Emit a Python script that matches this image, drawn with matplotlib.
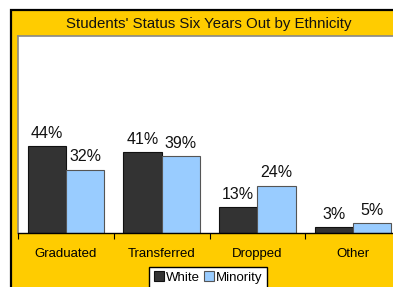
import matplotlib.pyplot as plt
import numpy as np
from matplotlib.patches import Rectangle

plt.rcParams['font.family'] = ['Liberation Sans', 'DejaVu Sans']

# data
categories = ['Graduated', 'Transferred', 'Dropped', 'Other']
white = [44, 41, 13, 3]
minority = [32, 39, 24, 5]
series_names = ['White', 'Minority']

W, H = 393, 287
fig = plt.figure(figsize=(W / 100, H / 100), dpi=100)
fig.patch.set_facecolor('white')

# yellow frame (cropped on right and bottom in the original)
frame = Rectangle((10.5 / W, -0.1), (408 - 10.5) / W, (H - 9.5) / H + 0.1,
                  transform=fig.transFigure, facecolor='#FFCC00',
                  edgecolor='black', linewidth=1.6, zorder=-10)
fig.patches.append(frame)

ax = fig.add_axes([18 / W, (H - 233) / H, (401 - 18) / W, (233 - 36) / H])
ax.set_facecolor('white')

x = np.arange(len(categories))
bw = 0.4
b1 = ax.bar(x - bw / 2, white, bw, color='#333333', edgecolor='#111111', linewidth=0.8, label=series_names[0])
b2 = ax.bar(x + bw / 2, minority, bw, color='#99CCFF', edgecolor='#555555', linewidth=0.8, label=series_names[1])

for bars, vals in ((b1, white), (b2, minority)):
    for rect, v in zip(bars, vals):
        ax.annotate(f'{v}%', (rect.get_x() + rect.get_width() / 2, rect.get_height()),
                    xytext=(0, 4), textcoords='offset points',
                    ha='center', va='bottom', fontsize=11.5, color='#111111')

ax.set_xlim(-0.5, len(categories) - 0.5)
ax.set_ylim(0, 100)
ax.set_yticks([])
ax.set_xticks(x)
ax.set_xticklabels(categories, fontsize=9.5)
ax.tick_params(axis='x', which='major', length=0, pad=10.5)
ax.set_xticks(np.arange(-0.5, len(categories)), minor=True)
ax.tick_params(axis='x', which='minor', length=4, width=0.8, direction='out', color='black')

for s in ('left', 'top', 'right'):
    ax.spines[s].set_color('#888888')
    ax.spines[s].set_linewidth(1.2)
ax.spines['bottom'].set_color('black')
ax.spines['bottom'].set_linewidth(1.0)

fig.text(209 / W, 1 - 24 / H, "Students' Status Six Years Out by Ethnicity",
         ha='center', va='center', fontsize=10.8, color='#111111')

leg = fig.legend(loc='upper center', bbox_to_anchor=(208 / W, 1 - 266.5 / H), ncol=2,
                 fontsize=9.5, frameon=True, fancybox=False, framealpha=1,
                 edgecolor='black', handlelength=0.75, handleheight=0.75,
                 handletextpad=0.15, columnspacing=0.3, borderpad=0.35,
                 borderaxespad=0)
leg.get_frame().set_linewidth(1.0)

fig.savefig('out.png', dpi=100)
